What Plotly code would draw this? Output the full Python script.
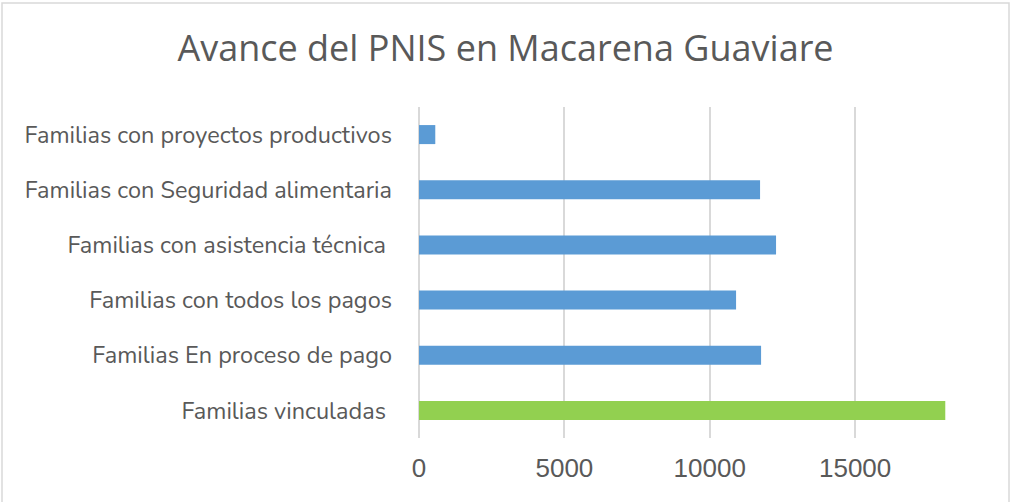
import plotly.graph_objects as go

categories = [
    "Familias vinculadas ",
    "Familias En proceso de pago",
    "Familias con todos los pagos",
    "Familias con asistencia técnica ",
    "Familias con Seguridad alimentaria",
    "Familias con proyectos productivos",
]
values = [18100, 11765, 10905, 12280, 11730, 560]
bar_colors = ["#92D050", "#5B9BD5", "#5B9BD5", "#5B9BD5", "#5B9BD5", "#5B9BD5"]
tick_values = [0, 5000, 10000, 15000]
tick_labels = ["0", "5000", "10000", "15000"]

W, H = 1011, 502
L, R, T, B = 419, 57, 107, 64
pw, ph = W - L - R, H - T - B

def px_x(p):
    return (p - L) / pw

def px_y(p):
    return 1 - (p - T) / ph

fig = go.Figure(go.Bar(
    y=categories, x=values, orientation="h",
    marker=dict(color=bar_colors, line=dict(width=0)),
    hoverinfo="x+y",
))

fig.update_layout(
    width=W, height=H,
    margin=dict(l=L, r=R, t=T, b=B, autoexpand=False),
    paper_bgcolor="white", plot_bgcolor="white",
    bargap=0.655,
    showlegend=False,
    title=dict(text="Avance del PNIS en Macarena Guaviare", x=0.5, xref="container",
               xanchor="center", y=1 - 48 / H, yref="container", yanchor="middle",
               font=dict(family="Open Sans", size=36, color="#595959")),
    xaxis=dict(range=[0, 18400], tickvals=tick_values, ticktext=tick_labels,
               showgrid=True, gridcolor="#D9D9D9", gridwidth=2,
               zeroline=True, zerolinecolor="#D9D9D9", zerolinewidth=2,
               showline=False, ticks="", ticklabelstandoff=12, automargin=False,
               tickfont=dict(family="Liberation Sans", size=26, color="#595959")),
    yaxis=dict(showgrid=False, zeroline=False, showline=False, ticks="",
               ticklabelstandoff=26, automargin=False,
               tickfont=dict(family="Nunito, Open Sans", size=23.5, color="#595959")),
    shapes=[dict(type="rect", xref="paper", yref="paper",
                 x0=px_x(2), x1=px_x(1009), y0=px_y(515), y1=px_y(3),
                 line=dict(color="#D9D9D9", width=1.5), fillcolor="rgba(0,0,0,0)",
                 layer="below")],
)

fig.write_html("out.html", config={"displayModeBar": False},
               post_script="document.body.style.margin='0';")
